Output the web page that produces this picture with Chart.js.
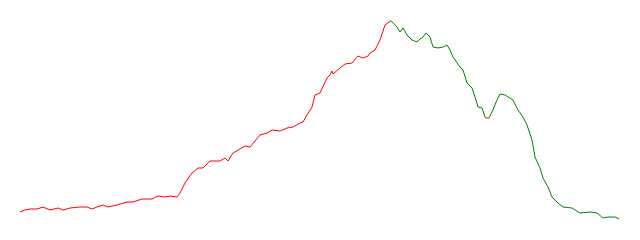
<!DOCTYPE html>
<html>
<head>
<meta charset="utf-8">
<script src="https://cdn.jsdelivr.net/npm/chart.js@4"></script>
<style>
html,body{margin:0;padding:0;background:#fff;}
#wrap{width:640px;height:240px;position:relative;}
</style>
</head>
<body>
<div id="wrap"><canvas id="c"></canvas></div>
<script>
// day index (horizontal position in the series)
const days = [20,25,30,37,43,50,58,63,70,80,87,92,97,103,108,117,127,133,142,152,158,165,170,177,180,185,192,198,203,210,220,225,228,233,240,245,250,260,267,272,280,287,293,300,303,307,312,315,320,327,330,332,333,340,345,352,358,363,368,370,375,380,385,391,397,400,403,407,412,417,420,423,426,430,433,438,443,447,450,453,460,463,467,472,475,478,482,485,486,489,492,497,500,505,513,518,523,527,532,535,540,543,548,552,558,563,572,580,590,597,603,608,615,619];
// price values
const prices = [28,30,31,31,33,30,32,30,32,33,33,31,33,35,33,35,38,38,41,41,44,43,44,43,47,57,67,72,72,79,79,82,79,87,91,94,93,105,107,110,109,112,113,117,118,125,133,145,147,162,165,169,166,172,176,177,184,182,184,187,190,200,215,219.3,213,208,212,205,200,198,201,203,207,203,193,192,193,195,190,183,173,170,157,152,143,133,132,123,122,122,128,140,146,145,140,130,123,115,100,83,72,62,53,43,37,33,32,27,28,27,22,23,23,21];
// phase of each segment start: 'up' (red) or 'down' (green)
const upDays = [486];
const peakIndex = prices.indexOf(Math.max(...prices));
const phases = prices.map((v, i) => (i < peakIndex || upDays.includes(days[i])) ? 'up' : 'down');

const points = days.map((d, i) => ({x: d, y: prices[i]}));

new Chart(document.getElementById('c'), {
  type: 'line',
  data: {
    datasets: [{
      data: points,
      borderWidth: 1,
      borderColor: '#ff0000',
      pointRadius: 0,
      tension: 0,
      segment: {
        borderColor: ctx => phases[ctx.p0DataIndex] === 'up' ? '#ff0000' : '#008000'
      }
    }]
  },
  options: {
    responsive: true,
    maintainAspectRatio: false,
    animation: false,
    layout: {padding: 0},
    plugins: {legend: {display: false}, tooltip: {enabled: false}},
    scales: {
      x: {type: 'linear', display: false, min: 0, max: 640},
      y: {display: false, min: 0, max: 240}
    }
  }
});
</script>
</body>
</html>
